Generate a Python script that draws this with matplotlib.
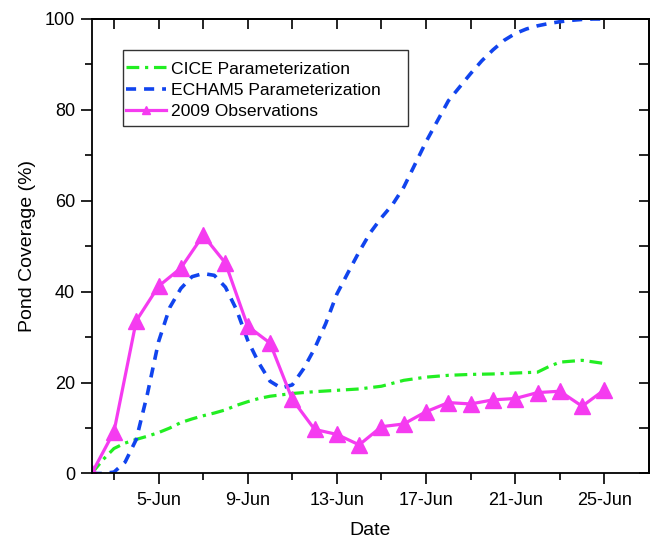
import matplotlib
matplotlib.use("Agg")
import matplotlib.pyplot as plt
from matplotlib.patches import Rectangle
from matplotlib.ticker import FixedLocator, FuncFormatter, MultipleLocator

plt.rcParams["font.family"] = ["Liberation Sans", "DejaVu Sans"]

# day of June for each series
obs_days = [2, 3, 4, 5, 6, 7, 8, 9, 10, 11, 12, 13, 14, 15, 16, 17, 18, 19, 20, 21, 22, 23, 24, 25]
obs_cover = [0, 9.2, 33.6, 41.2, 45.2, 52.4, 46.3, 32.4, 28.7, 16.3, 9.7, 8.6, 6.3, 10.3,
             10.9, 13.6, 15.6, 15.3, 16.2, 16.5, 17.8, 18.1, 14.8, 18.4]

cice_days = [2, 2.5, 3, 3.5, 4, 4.5, 5, 5.5, 6, 6.5, 7, 7.5, 8, 8.5, 9, 9.5, 10, 11, 12,
             13, 14, 15, 16, 17, 18, 19, 20, 21, 22, 22.5, 23, 24, 25]
cice_cover = [0, 3.0, 5.5, 6.7, 7.5, 8.2, 9.0, 10.0, 11.2, 12.0, 12.7, 13.3, 14.0, 15.0,
              15.8, 16.5, 17.0, 17.6, 18.0, 18.3, 18.6, 19.2, 20.5, 21.2, 21.6, 21.8,
              21.9, 22.1, 22.3, 23.5, 24.5, 24.9, 24.2]

echam_days = [2, 2.5, 3, 3.5, 4, 4.5, 5, 5.5, 6, 6.5, 7, 7.5, 8, 8.5, 9, 9.5, 10, 10.5,
              11, 11.5, 12, 12.5, 13, 13.5, 14, 14.5, 15, 15.5, 16, 16.5, 17, 17.5, 18,
              18.5, 19, 19.5, 20, 20.5, 21, 21.5, 22, 22.5, 23, 23.5, 24, 24.5, 25]
echam_cover = [0, 0, 0.3, 2.5, 7.5, 17.5, 29.0, 36.5, 40.7, 43.3, 44.0, 43.6, 41.0, 36.0,
               29.3, 24.3, 20.3, 18.8, 19.5, 23.0, 27.5, 33.0, 39.5, 44.2, 48.8, 53.0,
               56.3, 59.2, 63.0, 68.0, 73.0, 77.5, 82.0, 85.0, 88.0, 90.8, 93.2, 95.3,
               96.8, 97.8, 98.5, 99.0, 99.4, 99.7, 99.9, 100.0, 100.0]

fig = plt.figure(figsize=(6.52, 5.38), dpi=100)
ax = fig.add_axes([0.1406, 0.1199, 0.8548, 0.8448])

ax.plot(cice_days, cice_cover, color="#22EE22", lw=2.3,
        linestyle=(0, (4, 1.8, 1, 1.8)), label="CICE Parameterization")
ax.plot(echam_days, echam_cover, color="#1144EE", lw=2.6,
        linestyle=(0, (2.8, 2.2)), label="ECHAM5 Parameterization")
ax.plot(obs_days, obs_cover, color="#F53BF0", lw=2.3, marker="^", ms=12,
        label="2009 Observations")

ax.set_xlim(2, 27)
ax.set_ylim(0, 100)

ax.xaxis.set_major_locator(FixedLocator([5, 9, 13, 17, 21, 25]))
ax.xaxis.set_minor_locator(FixedLocator([3, 7, 11, 15, 19, 23]))
ax.xaxis.set_major_formatter(FuncFormatter(lambda d, pos: f"{int(d)}-Jun"))
ax.yaxis.set_major_locator(MultipleLocator(20))
ax.yaxis.set_minor_locator(MultipleLocator(10))

ax.tick_params(which="both", direction="out", width=1.2, labelsize=13)
ax.tick_params(which="major", length=8)
ax.tick_params(which="minor", length=5)
ax.tick_params(axis="x", pad=5)
ax.tick_params(axis="y", pad=4)

# mirrored inward ticks on top and right
top = ax.secondary_xaxis("top")
top.xaxis.set_major_locator(FixedLocator([3, 5, 7, 9, 11, 13, 15, 17, 19, 21, 23, 25]))
top.tick_params(direction="in", length=7, width=1.2, labeltop=False)
right = ax.secondary_yaxis("right")
right.yaxis.set_major_locator(MultipleLocator(10))
right.tick_params(direction="in", length=7, width=1.2, labelright=False)

for sp in list(ax.spines.values()) + [top.spines["top"], right.spines["right"]]:
    sp.set_linewidth(1.3)

ax.set_xlabel("Date", fontsize=14, labelpad=10)
ax.set_ylabel("Pond Coverage (%)", fontsize=14, labelpad=6)

# legend without its own frame; a wider box is drawn around it
leg = ax.legend(loc="upper left", bbox_to_anchor=(0.061, 0.907), borderaxespad=0,
                fontsize=12.6, frameon=False,
                handlelength=2.3, handletextpad=0.3, labelspacing=0.35,
                borderpad=0.0, markerscale=0.5, numpoints=1)
ax.add_patch(Rectangle((0.0562, 0.7646), 0.5114, 0.1672, transform=ax.transAxes,
                       fill=False, edgecolor="#333333", lw=1.0, zorder=4))

fig.savefig("out.png", dpi=100)
